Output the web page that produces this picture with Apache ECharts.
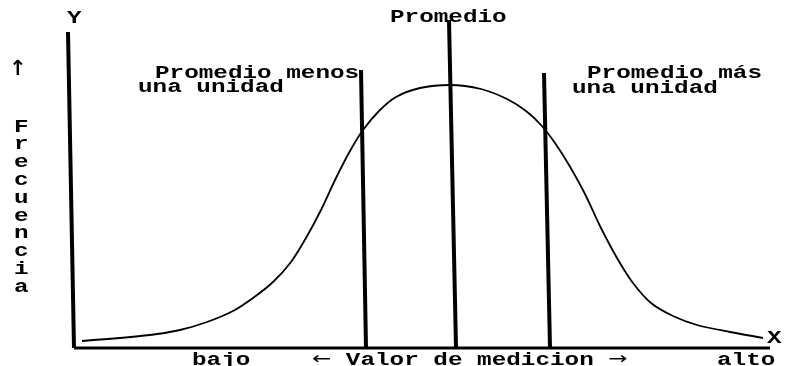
<!DOCTYPE html>
<html>
<head>
<meta charset="utf-8">
<script src="https://cdn.jsdelivr.net/npm/echarts@6/dist/echarts.min.js"></script>
<style>
  html, body { margin: 0; padding: 0; background: #fff; }
  #chart { width: 785px; height: 366px; }
</style>
</head>
<body>
<div id="chart"></div>
<script>
// curva de frecuencia (x = valor de medicion, y = frecuencia)
const curveX = [21, 89, 119, 146, 172, 192, 212, 230, 245, 260, 275, 289, 302, 318, 335, 359, 389, 420, 446, 465, 480, 494, 508, 524, 539, 556, 572, 590, 612, 636, 669, 702];
const curveY = [7, 13, 18, 26, 37, 50, 66, 86, 110, 138, 170, 197, 218, 237, 251, 260, 263, 259, 249, 237, 223, 205, 183, 154, 122, 90, 65, 45, 32, 23, 16, 10];

// lineas verticales: [x arriba, y arriba, x abajo, y abajo]
const lineMenos = [300, 278, 305, 0];
const lineProm = [388, 328, 395, 0];
const lineMas = [483, 275, 489, 0];
// ejes dibujados a mano
const ejeY = [7, 316, 13, 0];
const ejeX = [13, 0, 709, 0];

const frecLetters = ['F', 'r', 'e', 'c', 'u', 'e', 'n', 'c', 'i', 'a'];

const FONT = 'bold 18px "Liberation Mono", "DejaVu Sans Mono", monospace';
const ARROW_FONT = '17px "DejaVu Sans", sans-serif';
const SX = 1.35;

function seg(a) {
  return [[a[0], a[1]], [a[2], a[3]]];
}

function lineSeries(data, width, smooth) {
  return {
    type: 'line',
    data: data,
    smooth: smooth || false,
    symbol: 'none',
    clip: false,
    silent: true,
    lineStyle: { color: '#000', width: width }
  };
}

function txt(text, x, y, font, sx) {
  return {
    type: 'text',
    x: x,
    y: y,
    scaleX: sx || SX,
    silent: true,
    style: {
      text: text,
      font: font || FONT,
      fill: '#000',
      align: 'left',
      verticalAlign: 'middle',
      rich: {
        a: { font: ARROW_FONT, fill: '#000' }
      }
    }
  };
}

let chart = echarts.init(document.getElementById('chart'));

let graphics = [
  txt('Y', 67, 18),
  txt('↑', 9, 70, 'bold 21px "DejaVu Sans", sans-serif', 1),
  txt('Promedio', 390, 17),
  txt('Promedio menos', 155, 73),
  txt('una unidad', 138, 87),
  txt('Promedio más', 587, 73),
  txt('una unidad', 572, 88),
  txt('bajo', 192, 360),
  txt('{a|←} Valor de medicion {a|→}', 312, 360),
  txt('alto', 717, 360),
  txt('X', 767, 338)
];
frecLetters.forEach((ch, i) => {
  graphics.push(txt(ch, 14, 127 + i * 17.8));
});

let option = {
  animation: false,
  backgroundColor: '#fff',
  grid: { left: 61, right: 15, top: 18, bottom: 18 },
  xAxis: {
    type: 'value',
    min: 0,
    max: 709,
    axisLine: { show: false },
    axisTick: { show: false },
    axisLabel: { show: false },
    splitLine: { show: false }
  },
  yAxis: {
    type: 'value',
    min: 0,
    max: 330,
    axisLine: { show: false },
    axisTick: { show: false },
    axisLabel: { show: false },
    splitLine: { show: false }
  },
  graphic: graphics,
  series: [
    lineSeries(curveX.map((x, i) => [x, curveY[i]]), 1.8, 0.3),
    lineSeries(seg(lineMenos), 4),
    lineSeries(seg(lineProm), 4),
    lineSeries(seg(lineMas), 4),
    lineSeries(seg(ejeY), 4),
    lineSeries(seg(ejeX), 3)
  ]
};
chart.setOption(option);
</script>
</body>
</html>
